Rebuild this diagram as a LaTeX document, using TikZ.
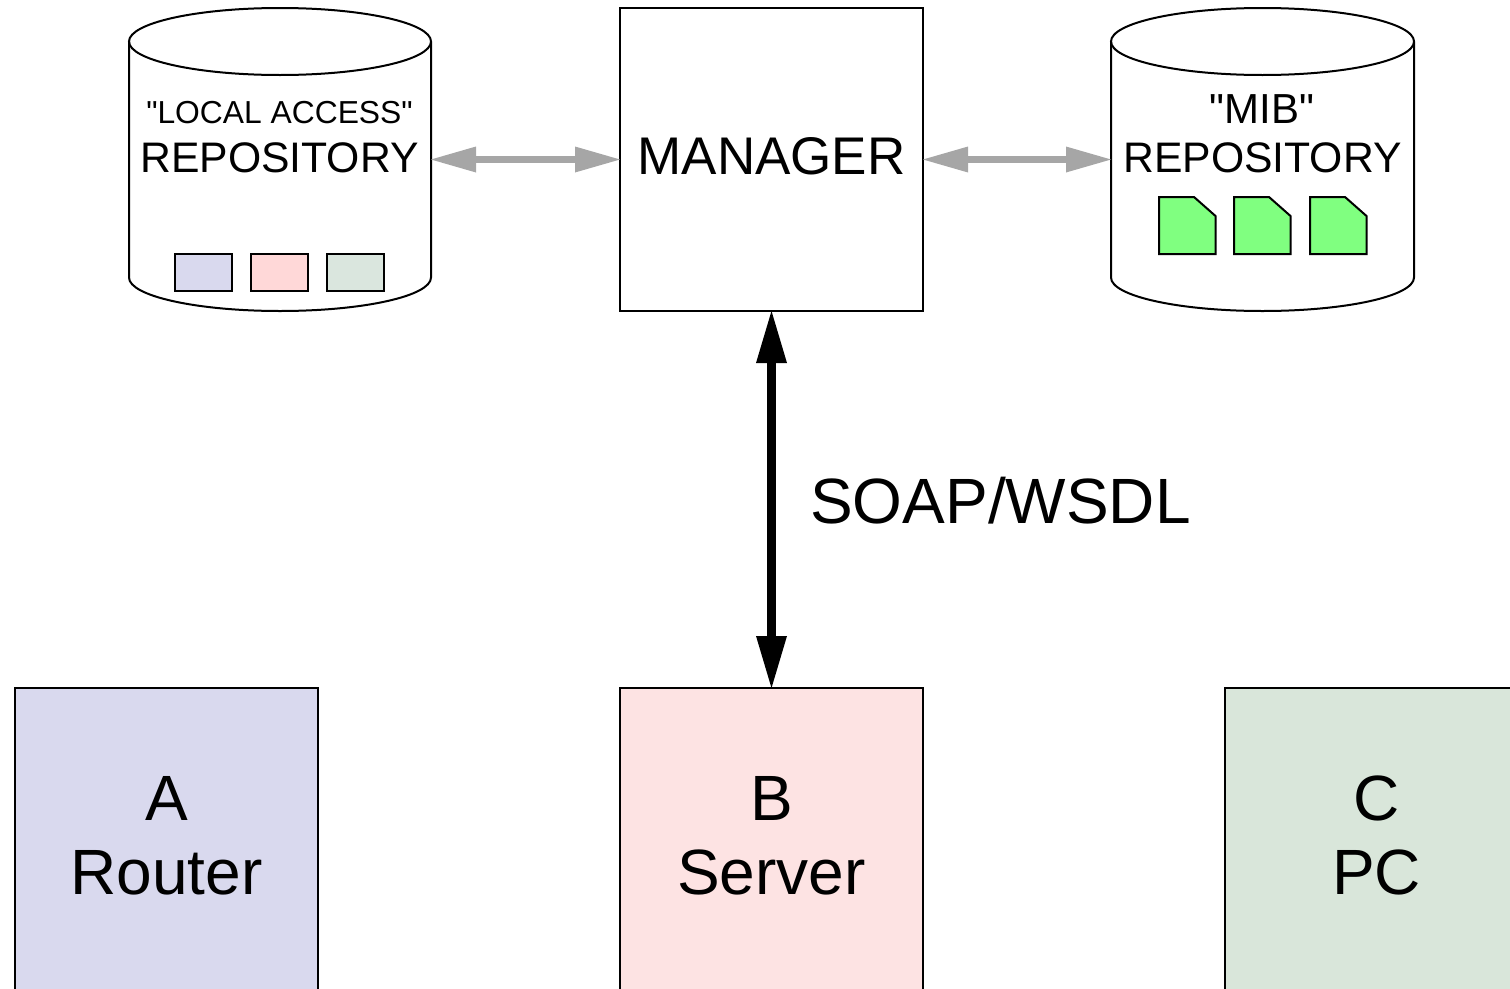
\documentclass[tikz,border=0pt]{standalone}
\usepackage{fontspec}
\setmainfont{Liberation Sans}[Ligatures=TeXOff]
\usetikzlibrary{arrows.meta,arrows}
\usetikzlibrary{positioning}

\definecolor{routerc}{HTML}{D9D9EE}
\definecolor{serverc}{HTML}{FDE3E3}
\definecolor{pcc}{HTML}{D9E6DA}
\definecolor{chipb}{HTML}{FFD8D8}
\definecolor{chipc}{HTML}{DAE6DE}
\definecolor{docc}{HTML}{80FF80}
\definecolor{linkc}{HTML}{A6A6A6}

\begin{document}
\begin{tikzpicture}[x=1pt,y=1pt]
\tikzstyle{box node}=[rectangle,draw=black,line width=2pt,minimum size=303pt,inner sep=0,outer sep=0,align=center]
\tikzstyle{chip node}=[rectangle,draw=black,line width=2pt,minimum width=57pt,minimum height=37pt,inner sep=0,outer sep=0]
\tikzset{
  repo node/.style = {rectangle,minimum height=303pt,minimum width=302pt,inner sep=0,outer sep=0},
  repo text/.style = {inner sep=0,anchor=base,font=\fontsize{42.7}{43}\selectfont},
  repo drum/.style = {draw=black,line width=2pt},
  doc file/.style = {draw=black,line width=2pt,fill=docc},
  thin link/.style = {draw=linkc,line width=7pt,{Triangle[length=45pt,width=26pt,line width=0pt]}-{Triangle[length=45pt,width=26pt,line width=0pt]}},
  main link/.style = {draw=black,line width=9pt,{Triangle[length=52pt,width=31pt,line width=0pt]}-{Triangle[length=52pt,width=31pt,line width=0pt]}}
}
\useasboundingbox (0,0) rectangle (1510,-988);

    \node[box node,text height=38.5pt,text depth=8.5pt,font=\fontsize{53}{53}\selectfont] (manager) at (771.5,-159.5) {MANAGER};
    \node[repo node] (local) [left=189pt of manager] {};
    \node[repo node,minimum width=303pt] (mib) [right=188pt of manager] {};
    \node[box node,fill=serverc,text depth=9pt,font=\fontsize{64}{74}\selectfont] (server) [below=377pt of manager] {B\\Server};
    \node[box node,fill=routerc,text depth=9pt,font=\fontsize{64}{74}\selectfont] (router) [left=302pt of server] {A\\Router};
    \node[box node,fill=pcc,text depth=9pt,font=\fontsize{64}{74}\selectfont] (pc) [right=302pt of server] {C\\PC};

    %%%%%%%%%%%%%%%%%%%%%%%%%%
    \foreach \repo/\rx in {local/151,mib/151.5}{
        \draw[repo drum] ([yshift=-33.5pt]\repo.north) ellipse [x radius=\rx,y radius=33.5];
        \draw[repo drum] ([yshift=-33.5pt]\repo.north west) -- ([yshift=33.5pt]\repo.south west)
            arc [start angle=180,end angle=360,x radius=\rx,y radius=33.5] -- ([yshift=-33.5pt]\repo.north east);
    }

    \node[repo text,font=\fontsize{31.8}{32}\selectfont] (localname) at (279.5,-123) {"LOCAL ACCESS"};
    \node[repo text] (localrepo) at (279.5,-172) {REPOSITORY};
    \node[repo text,font=\fontsize{42}{42}\selectfont] (mibname) at (1262,-123) {"MIB"};
    \node[repo text] (mibrepo) at (1262.5,-172) {REPOSITORY};
    \node[inner sep=0,anchor=base west,font=\fontsize{64}{64}\selectfont] (soap) at (810,-523) {SOAP/WSDL};

    \node[chip node,fill=chipb] (chip2) at (279.5,-272.5) {};
    \node[chip node,fill=routerc] (chip1) [left=19.5pt of chip2] {};
    \node[chip node,fill=chipc] (chip3) [right=18.5pt of chip2] {};

    \foreach \dx in {1159,1234,1310}
        \draw[doc file] (\dx,-197) -- (\dx+35,-197) -- (\dx+56.5,-216) -- (\dx+56.5,-254) -- (\dx,-254) -- cycle;

    \path
        (local.east) edge[thin link] (manager.west)
        (manager.east) edge[thin link] (mib.west)
        (manager.south) edge[main link] (server.north)
;
\end{tikzpicture}
\end{document}
